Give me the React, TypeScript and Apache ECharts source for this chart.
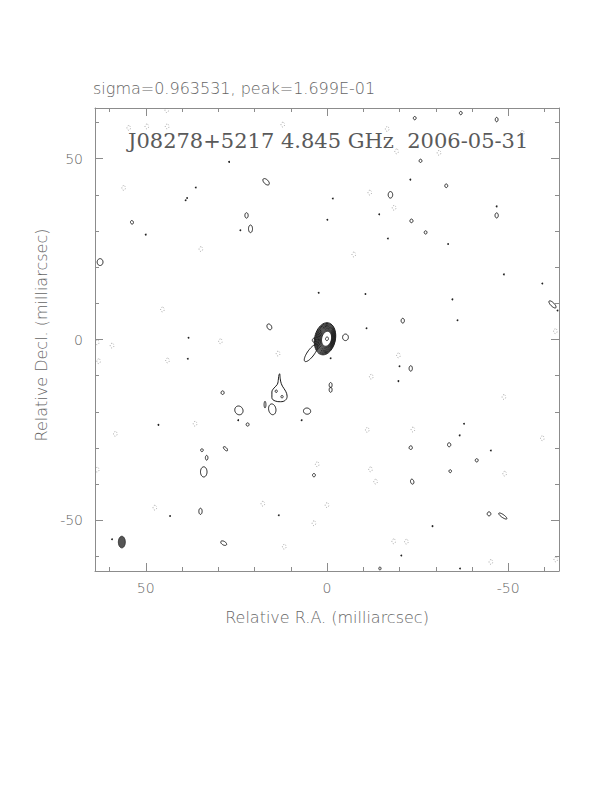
import React, { useEffect, useRef } from 'react';
import * as echarts from 'echarts';

const RANGE = 64;
const MAJOR_TICKS = [-50, 0, 50];
const MINOR_TICKS = [-60, -50, -40, -30, -20, -10, 0, 10, 20, 30, 40, 50, 60];
const HEADER = 'sigma=0.963531, peak=1.699E-01';
const TITLE = 'J08278+5217 4.845 GHz  2006-05-31';
const X_NAME = 'Relative R.A. (milliarcsec)';
const Y_NAME = 'Relative Decl. (milliarcsec)';

// contour ellipses: [RA (mas), Dec (mas), semi-major (mas), semi-minor (mas), position angle (deg)]
const CORE = [
  [0.0, 0.2, 0.5, 0.4, -12],
  [0.12, 0.2, 2.1, 1.35, -12],
  [0.16, 0.2, 2.3, 1.48, -12],
  [0.2, 0.2, 2.5, 1.61, -12],
  [0.24, 0.2, 2.7, 1.74, -12],
  [0.28, 0.2, 2.9, 1.87, -12],
  [0.31, 0.2, 3.1, 2.0, -12],
  [0.34, 0.2, 3.3, 2.13, -12],
  [0.37, 0.2, 3.5, 2.26, -12],
  [0.41, 0.2, 3.7, 2.39, -12],
  [0.45, 0.2, 3.9, 2.51, -12],
  [0.49, 0.2, 4.1, 2.63, -12],
  [0.52, 0.2, 4.3, 2.75, -12],
  [0.55, 0.2, 4.5, 2.87, -12],
];

const JET = [
  [4.4, -3.7, 2.9, 0.95, -36],
  [3.6, -0.2, 0.55, 0.45, 0],
  [14.0, -14.3, 0.35, 0.3, 0],
  [12.4, -15.8, 0.35, 0.3, 0],
];

// outline of the extended feature south-east of the core: [RA, Dec]
const BLOB = [
  [13.0, -9.5], [12.8, -11.5], [12.3, -12.9], [11.4, -14.3], [11.0, -15.7],
  [11.5, -16.8], [12.8, -17.2], [14.3, -17.0], [15.2, -16.1], [15.2, -14.5],
  [14.6, -13.4], [13.7, -12.4], [13.4, -10.9], [13.2, -9.6], [13.0, -9.5],
];

const POSITIVE = [
  [-24.2, 61.2, 0.45, 0.38, 0],
  [-36.9, 62.6, 0.45, 0.38, 0],
  [-46.8, 60.8, 0.6, 0.38, 0],
  [-25.8, 49.4, 0.45, 0.38, 0],
  [16.8, 43.6, 1.1, 0.6, 45],
  [-17.5, 40.0, 0.9, 0.62, 0],
  [-32.9, 42.5, 0.5, 0.4, 0],
  [-46.8, 34.3, 0.7, 0.45, 0],
  [22.2, 34.3, 0.75, 0.45, 0],
  [21.1, 30.6, 1.05, 0.55, 0],
  [-23.3, 32.8, 0.5, 0.42, 0],
  [-27.2, 29.6, 0.45, 0.38, 0],
  [53.8, 32.4, 0.5, 0.4, 20],
  [62.6, 21.4, 0.95, 0.8, 0],
  [-62.2, 9.7, 1.3, 0.5, 45],
  [15.9, 3.5, 0.85, 0.6, 30],
  [-20.9, 5.2, 0.65, 0.45, 0],
  [-5.1, 0.6, 0.9, 0.8, 0],
  [-23.1, -8.0, 0.75, 0.45, 0],
  [28.8, -14.7, 0.5, 0.42, 0],
  [-1.0, -12.6, 0.7, 0.4, 0],
  [-1.0, -13.9, 0.7, 0.4, 0],
  [17.1, -18.0, 0.9, 0.25, 0],
  [15.1, -19.3, 1.5, 1.0, 10],
  [24.3, -19.6, 1.25, 1.1, 30],
  [5.5, -19.8, 1.0, 0.85, 80],
  [21.9, -23.5, 0.45, 0.4, 0],
  [34.5, -30.6, 0.4, 0.35, 0],
  [28.0, -30.2, 0.75, 0.35, 45],
  [33.2, -32.7, 0.65, 0.35, 0],
  [34.0, -36.6, 1.4, 0.9, 0],
  [3.6, -37.5, 0.45, 0.4, 0],
  [-23.1, -29.9, 0.5, 0.45, 0],
  [-33.7, -29.1, 0.55, 0.45, 0],
  [-41.3, -33.4, 0.45, 0.4, 0],
  [-34.0, -36.4, 0.4, 0.35, 0],
  [-23.5, -39.3, 0.7, 0.45, 15],
  [34.9, -47.5, 0.85, 0.45, 0],
  [-44.7, -48.2, 0.55, 0.5, 0],
  [-48.5, -48.8, 1.35, 0.4, 55],
  [28.5, -56.3, 0.9, 0.5, 60],
  [-14.6, -63.3, 0.4, 0.3, 0],
];

// tiny contour specks: [RA, Dec]
const SPECKS = [
  [-51.6, 45.1], [27.0, 49.1], [36.2, 42.0], [38.6, 39.1], [39.0, 38.5],
  [-15.9, 38.7], [-46.8, 36.8], [23.9, 30.2], [50.0, 29.0], [-63.6, 8.0],
  [-1.6, 39.0], [-0.1, 33.1], [-48.8, 18.0], [-59.4, 15.5], [-34.6, 11.1],
  [-36.0, 5.3], [-33.4, 26.4], [-16.8, 27.9], [-14.4, 34.6], [-23.0, 44.2],
  [2.3, 12.9], [-10.6, 12.6], [-10.9, 3.1], [38.2, 0.5],
  [-20.0, -7.4], [-19.7, -11.5], [24.5, -22.3], [7.0, -22.3], [-45.2, -30.7],
  [43.3, -48.8], [13.3, -48.6], [-29.1, -51.6], [38.4, -5.3], [18.8, -6.1],
  [46.5, -23.6], [59.3, -55.2], [-1.0, -5.2], [-20.5, -59.7], [-37.8, -23.3],
  [-36.6, -26.5], [-36.7, -63.3], [-46.8, 35.5],
];

// negative contours: [RA, Dec]
const NEGATIVE = [
  [49.7, 58.9], [44.1, 58.9], [54.7, 58.5], [44.2, 63.4], [12.2, 59.4],
  [-16.6, 58.2], [-19.2, 52.0], [-30.9, 51.6], [-53.9, 57.1], [56.1, 41.9],
  [-11.8, 40.6], [-18.5, 36.4], [34.8, 25.0], [-7.4, 23.5], [45.4, 8.3],
  [-63.0, 2.3], [59.3, -1.7], [44.0, -5.8], [13.5, -3.9], [-12.2, -10.3],
  [-19.7, -4.4], [-48.8, -15.9], [36.4, -23.3], [58.4, -26.1], [-11.1, -25.0],
  [-23.7, -24.9], [2.7, -34.5], [-12.0, -35.9], [-13.4, -39.3], [-49.0, -37.1],
  [-59.4, -27.3], [17.7, -45.4], [0.0, -45.8], [3.6, -50.8], [47.5, -46.5],
  [11.8, -57.3], [-18.4, -55.8], [-21.9, -55.9], [-63.1, -60.8], [29.4, -0.5],
  [63.4, -0.8], [63.0, -6.0], [63.4, -36.0], [-45.2, -61.5],
];

// restoring beam: [RA, Dec, semi-major, semi-minor, PA]
const BEAM = [[56.6, -56.0, 1.6, 0.95, 0]];

const AXIS_COLOR = '#8c8c8c';
const TEXT_COLOR = '#666666';
const FONT = "'DejaVu Sans', sans-serif";

function ellipsePoints(api: any, cx: number, cy: number, a: number, b: number, paDeg: number) {
  const pa = (paDeg * Math.PI) / 180;
  const ux = Math.sin(pa), uy = Math.cos(pa);
  const vx = Math.cos(pa), vy = -Math.sin(pa);
  const pts: number[][] = [];
  const n = 48;
  for (let i = 0; i < n; i++) {
    const t = (i / n) * Math.PI * 2;
    const px = cx + a * Math.cos(t) * ux + b * Math.sin(t) * vx;
    const py = cy + a * Math.cos(t) * uy + b * Math.sin(t) * vy;
    pts.push(api.coord([px, py]));
  }
  return pts;
}

function ellipseSeries(data: number[][], style: any, z = 3) {
  return {
    type: 'custom',
    xAxisIndex: 0,
    yAxisIndex: 0,
    clip: true,
    z,
    encode: { x: 0, y: 1 },
    data,
    renderItem: (params: any, api: any) => ({
      type: 'polygon',
      shape: {
        points: ellipsePoints(api, api.value(0), api.value(1), api.value(2), api.value(3), api.value(4)),
      },
      style: { ...style },
    }),
  };
}

function axisPair(dir: 'x' | 'y', side: string) {
  const common = {
    type: 'value',
    min: -RANGE,
    max: RANGE,
    position: side,
    splitLine: { show: false },
    inverse: dir === 'x',
  };
  const showLabel = side === 'bottom' || side === 'left';
  return [
    {
      ...common,
      axisLine: { show: true, onZero: false, lineStyle: { color: AXIS_COLOR, width: 1 } },
      axisTick: { show: true, inside: true, length: 8, customValues: MAJOR_TICKS, lineStyle: { color: AXIS_COLOR, width: 1 } },
      axisLabel: {
        show: showLabel,
        customValues: MAJOR_TICKS,
        margin: dir === 'x' ? 10 : 12,
        color: TEXT_COLOR,
        fontSize: 14,
        fontFamily: FONT,
        fontWeight: 200,
        formatter: (v: number) => String(v),
      },
    },
    {
      ...common,
      axisLine: { show: false, onZero: false },
      axisTick: { show: true, inside: true, length: 4, customValues: MINOR_TICKS, lineStyle: { color: AXIS_COLOR, width: 1 } },
      axisLabel: { show: false },
    },
  ];
}

export default function App() {
  const ref = useRef<HTMLDivElement>(null);
  useEffect(() => {
    if (!ref.current) return;
    const chart = echarts.init(ref.current, null, { renderer: 'svg' });
    const option: any = {
      animation: false,
      backgroundColor: '#ffffff',
      grid: { left: 95, top: 108, width: 464, height: 463, containLabel: false },
      xAxis: [...axisPair('x', 'bottom'), ...axisPair('x', 'top')],
      yAxis: [...axisPair('y', 'left'), ...axisPair('y', 'right')],
      graphic: [
        {
          type: 'text', x: 93, y: 88,
          style: { text: HEADER, fontSize: 16, fontFamily: FONT, fontWeight: 200, fill: TEXT_COLOR, textAlign: 'left', textVerticalAlign: 'middle' },
        },
        {
          type: 'text', x: 128, y: 141, z: 10,
          style: { text: TITLE, fontSize: 21, fontFamily: "'DejaVu Serif', serif", fill: '#5a5a5a', textAlign: 'left', textVerticalAlign: 'middle' },
        },
        {
          type: 'text', x: 327, y: 617,
          style: { text: X_NAME, fontSize: 16, fontFamily: FONT, fontWeight: 200, fill: TEXT_COLOR, textAlign: 'center', textVerticalAlign: 'middle' },
        },
        {
          type: 'text', x: 41, y: 335, rotation: Math.PI / 2,
          style: { text: Y_NAME, fontSize: 16, fontFamily: FONT, fontWeight: 200, fill: TEXT_COLOR, textAlign: 'center', textVerticalAlign: 'middle' },
        },
      ],
      series: [
        ellipseSeries(NEGATIVE.map((p) => [p[0], p[1], 0.65, 0.5, 0]), { fill: 'none', stroke: '#8a8a8a', lineWidth: 0.8, lineDash: [1, 1.8] }),
        ellipseSeries(POSITIVE, { fill: 'none', stroke: '#1a1a1a', lineWidth: 1 }),
        ellipseSeries(JET, { fill: 'none', stroke: '#1a1a1a', lineWidth: 1 }),
        ellipseSeries(CORE, { fill: 'none', stroke: '#222222', lineWidth: 1 }),
        ellipseSeries(BEAM, { fill: '#555555', stroke: '#333333', lineWidth: 1 }),
        {
          type: 'line',
          xAxisIndex: 0,
          yAxisIndex: 0,
          data: BLOB,
          smooth: 0.4,
          symbol: 'none',
          lineStyle: { color: '#1a1a1a', width: 1 },
          z: 3,
        },
        {
          type: 'custom',
          xAxisIndex: 0,
          yAxisIndex: 0,
          clip: true,
          encode: { x: 0, y: 1 },
          data: SPECKS,
          renderItem: (params: any, api: any) => {
            const c = api.coord([api.value(0), api.value(1)]);
            return { type: 'circle', shape: { cx: c[0], cy: c[1], r: 0.9 }, style: { fill: '#222222' } };
          },
        },
      ],
    };
    chart.setOption(option);
    return () => chart.dispose();
  }, []);
  return (
    <div
      ref={ref}
      style={{ position: 'absolute', left: 0, top: 0, width: 612, height: 792, background: '#ffffff' }}
    />
  );
}
